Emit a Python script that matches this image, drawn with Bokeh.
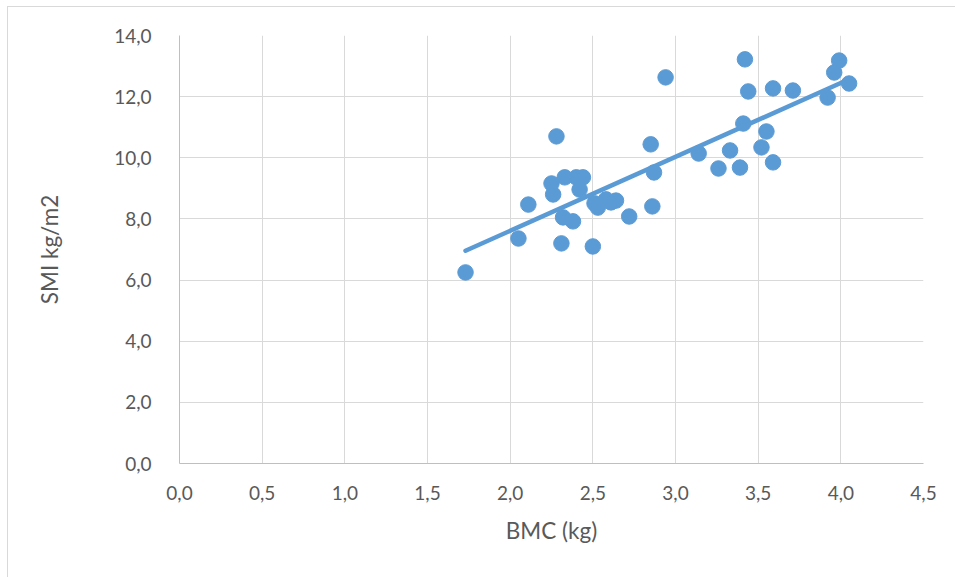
import numpy as np
from bokeh.plotting import figure
from bokeh.models import FixedTicker, CustomJSTickFormatter, Range1d
from bokeh.embed import file_html
from bokeh.resources import INLINE

# Bone mineral content (kg) vs skeletal muscle index (kg/m2)
bmc = [1.73, 2.05, 2.11, 2.25, 2.26, 2.28, 2.32, 2.31, 2.33, 2.38,
       2.40, 2.44, 2.42, 2.50, 2.51, 2.53, 2.58, 2.61, 2.64, 2.72,
       2.85, 2.86, 2.87, 2.94, 3.14, 3.26, 3.33, 3.39, 3.41, 3.42,
       3.44, 3.52, 3.55, 3.59, 3.59, 3.71, 3.92, 3.96, 3.99, 4.05]
smi = [6.25, 7.36, 8.47, 9.16, 8.80, 10.70, 8.05, 7.20, 9.36, 7.92,
       9.36, 9.36, 8.96, 7.10, 8.51, 8.37, 8.64, 8.54, 8.60, 8.08,
       10.44, 8.41, 9.52, 12.63, 10.14, 9.65, 10.24, 9.68, 11.12, 13.22,
       12.17, 10.34, 10.86, 12.27, 9.85, 12.20, 11.97, 12.79, 13.18, 12.43]

x_ticks = [0.0, 0.5, 1.0, 1.5, 2.0, 2.5, 3.0, 3.5, 4.0, 4.5]
y_ticks = [0, 2, 4, 6, 8, 10, 12, 14]

BLUE = "#5B9BD5"
GRID = "#D9D9D9"
TEXT = "#595959"
FONT = "Lato"

# the chart box is offset by its border: 8px from the left, 7px from the top
p = figure(width=948, height=571, output_backend="svg", toolbar_location=None,
           x_range=Range1d(0, 4.5), y_range=Range1d(0, 14),
           min_border_left=171, min_border_right=33,
           min_border_top=28, min_border_bottom=115)
p.outline_line_color = None
p.background_fill_color = "white"
p.border_fill_color = "white"

fmt = CustomJSTickFormatter(code="return tick.toFixed(1).replace('.', ',');")

for ax in (p.xaxis[0], p.yaxis[0]):
    ax.major_tick_line_color = None
    ax.minor_tick_line_color = None
    ax.axis_line_color = "#BFBFBF"
    ax.major_label_text_font = FONT
    ax.major_label_text_font_size = "19px"
    ax.major_label_text_color = TEXT
    ax.axis_label_text_font = FONT
    ax.axis_label_text_font_size = "22.5px"
    ax.axis_label_text_font_style = "normal"
    ax.axis_label_text_color = TEXT
    ax.formatter = fmt

p.xaxis.ticker = FixedTicker(ticks=x_ticks)
p.yaxis.ticker = FixedTicker(ticks=y_ticks)
p.xaxis.axis_label = "BMC (kg)"
p.yaxis.axis_label = "SMI kg/m2"
p.xaxis.major_label_standoff = 16
p.yaxis.major_label_standoff = 22
p.xaxis.axis_label_standoff = 14
p.yaxis.axis_label_standoff = 48

p.xgrid.ticker = FixedTicker(ticks=x_ticks)
p.ygrid.ticker = FixedTicker(ticks=y_ticks)
p.grid.grid_line_color = GRID
p.grid.grid_line_width = 1

p.scatter(bmc, smi, size=15.5, marker="circle", fill_color=BLUE, line_color=BLUE)

# Linear trendline fitted to the points
slope, intercept = np.polyfit(bmc, smi, 1)
xs = [min(bmc), max(bmc)]
ys = [slope * v + intercept for v in xs]
p.line(xs, ys, line_color=BLUE, line_width=4.5, line_cap="round")

p.styles = {"border-left": "1px solid #D9D9D9", "border-top": "1px solid #D9D9D9",
            "margin-left": "7px", "margin-top": "6px"}

open("out.html", "w").write(file_html(p, INLINE))
